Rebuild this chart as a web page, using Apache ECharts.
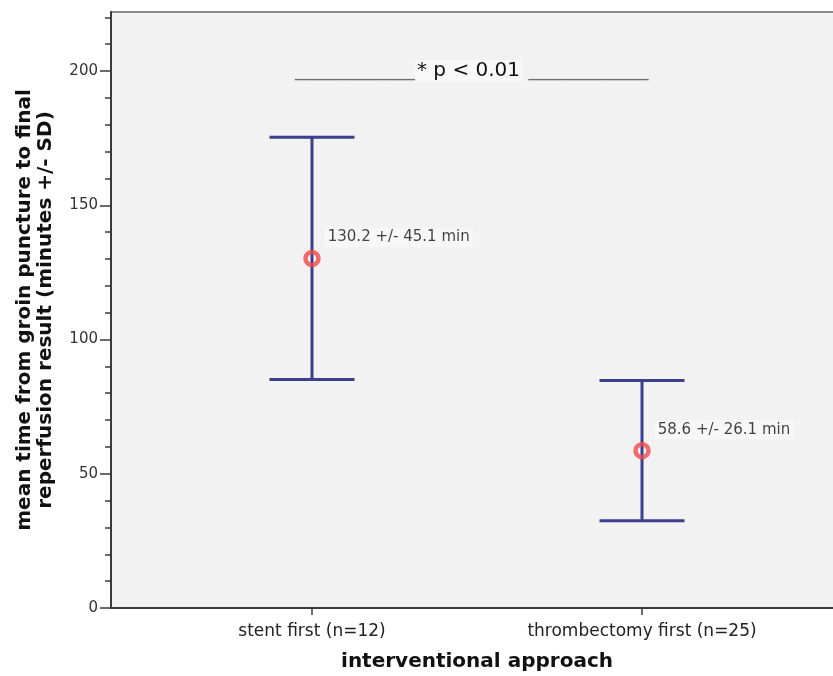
<!DOCTYPE html>
<html>
<head>
<meta charset="utf-8">
<script src="https://cdn.jsdelivr.net/npm/echarts@6/dist/echarts.min.js"></script>
<style>
html,body{margin:0;padding:0;background:#fff;}
#chart{width:833px;height:676px;}
</style>
</head>
<body>
<div id="chart"></div>
<script>
// ---- data ----
const categories = ['stent first (n=12)', 'thrombectomy first (n=25)'];
const means = [130.2, 58.6];
const sds = [45.1, 26.1];
const yMajorTicks = [0, 50, 100, 150, 200];
const yMinorTicks = [10, 20, 30, 40, 60, 70, 80, 90, 110, 120, 130, 140, 160, 170, 180, 190, 210, 220];
const annotation = '* p < 0.01';

// ---- build ----
const xPos = categories.map((c, i) => i);
const barData = means.map((m, i) => [i, +(m - sds[i]).toFixed(1), +(m + sds[i]).toFixed(1)]);
const pointData = means.map((m, i) => [i, m]);
const pointLabels = means.map((m, i) => m.toFixed(1) + ' +/- ' + sds[i].toFixed(1) + ' min');

const FONT = 'DejaVu Sans';
const chart = echarts.init(document.getElementById('chart'), null, {renderer: 'canvas'});

const option = {
  backgroundColor: '#ffffff',
  animation: false,
  textStyle: {fontFamily: FONT},
  grid: {
    left: 111, top: 12, right: -10, bottom: 68,
    outerBoundsMode: 'none',
    containLabel: false,
    show: true, backgroundColor: '#f2f2f2',
    borderColor: '#8c8c8c', borderWidth: 2
  },
  xAxis: {
    type: 'value',
    min: -0.609, max: 1.609,
    axisLine: {show: true, onZero: false, lineStyle: {color: '#3a3a3a', width: 2}},
    axisTick: {show: true, customValues: xPos, length: 7, lineStyle: {color: '#3a3a3a', width: 1.5}},
    axisLabel: {
      customValues: xPos,
      formatter: v => categories[Math.round(v)] || '',
      fontSize: 17, color: '#222', margin: 15, fontFamily: FONT
    },
    splitLine: {show: false},
    name: 'interventional approach',
    nameLocation: 'middle',
    nameGap: 44,
    nameTextStyle: {fontSize: 20, fontWeight: 'bold', color: '#111', fontFamily: FONT}
  },
  yAxis: [{
    type: 'value',
    min: 0, max: 222,
    axisLine: {show: true, onZero: false, lineStyle: {color: '#3a3a3a', width: 2}},
    axisTick: {show: true, customValues: yMajorTicks, length: 11, lineStyle: {color: '#3a3a3a', width: 1.5}},
    axisLabel: {customValues: yMajorTicks, fontSize: 15, color: '#333', margin: 13, fontFamily: FONT},
    splitLine: {show: false},
    name: 'mean time from groin puncture to final\nreperfusion result (minutes +/- SD)',
    nameLocation: 'middle',
    nameGap: 55,
    nameTextStyle: {fontSize: 20, fontWeight: 'bold', color: '#111', lineHeight: 21, fontFamily: FONT}
  }, {
    type: 'value',
    min: 0, max: 222,
    position: 'left',
    axisLine: {show: false, onZero: false},
    axisTick: {show: true, customValues: yMinorTicks, length: 6, lineStyle: {color: '#3a3a3a', width: 1.5}},
    axisLabel: {show: false},
    splitLine: {show: false}
  }],
  series: [{
    type: 'custom',
    name: 'sd',
    data: barData,
    encode: {x: 0, y: [1, 2]},
    renderItem: function (params, api) {
      const x = api.value(0);
      const lo = api.coord([x, api.value(1)]);
      const hi = api.coord([x, api.value(2)]);
      const hw = 42.5;
      const style = {stroke: '#3c3f8e', lineWidth: 3, fill: null};
      return {
        type: 'group',
        children: [
          {type: 'line', shape: {x1: lo[0], y1: lo[1], x2: hi[0], y2: hi[1]}, style: style},
          {type: 'line', shape: {x1: hi[0] - hw, y1: hi[1], x2: hi[0] + hw, y2: hi[1]}, style: style},
          {type: 'line', shape: {x1: lo[0] - hw, y1: lo[1], x2: lo[0] + hw, y2: lo[1]}, style: style}
        ]
      };
    },
    z: 2
  }, {
    type: 'scatter',
    name: 'mean',
    data: pointData,
    symbol: 'circle',
    symbolSize: 13,
    itemStyle: {color: 'rgba(0,0,0,0)', borderColor: '#ef4a4a', borderWidth: 4.5},
    label: {
      show: true,
      position: 'right',
      distance: 4,
      offset: [0, -21],
      formatter: p => pointLabels[p.dataIndex],
      fontSize: 15, color: '#111', fontFamily: FONT,
      backgroundColor: '#f8f8f8', padding: [2, 3]
    },
    z: 3
  }],
  graphic: [{
    type: 'text',
    left: 295,
    top: 60,
    style: {
      text: '____________{b|' + annotation + '} ____________',
      font: '20px "DejaVu Sans"',
      fill: '#6e6e6e',
      rich: {
        b: {fontSize: 20, fontFamily: FONT, fill: '#111', backgroundColor: '#f8f8f8', padding: [1, 2]}
      }
    }
  }]
};
chart.setOption(option);
</script>
</body>
</html>
